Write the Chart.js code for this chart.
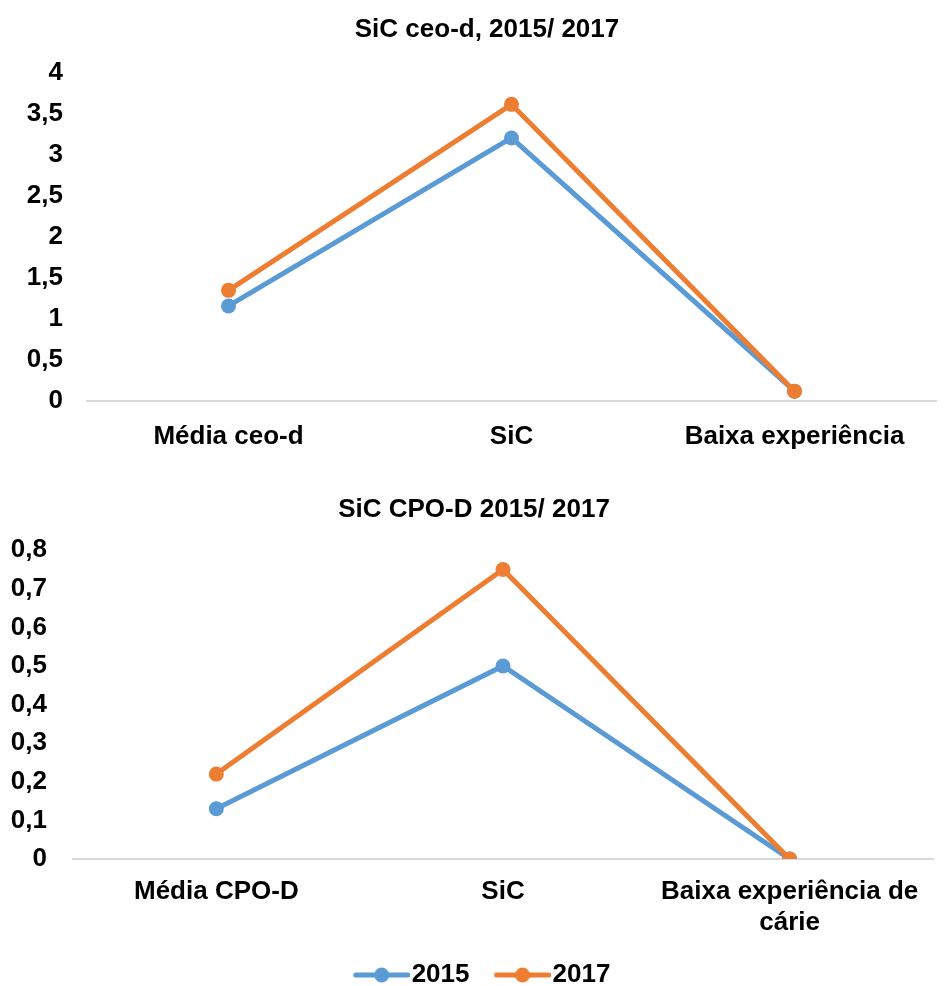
<!DOCTYPE html>
<html lang="pt">
<head>
    <meta charset="UTF-8">
    <title>SiC ceo-d / CPO-D 2015 e 2017</title>
    <script src="https://cdn.jsdelivr.net/npm/chart.js"></script>
    <style>
        html, body { margin: 0; background: #fff; overflow: hidden; }
        canvas { position: absolute; left: 0; }
        #chartTop { top: 0; }
        #chartBottom { top: 470px; }
    </style>
</head>
<body>
    <canvas id="chartTop" width="948" height="470"></canvas>
    <canvas id="chartBottom" width="948" height="528"></canvas>

    <script>
        // dados
        const seriesNames = ['2015', '2017'];

        const ceoLabels = ['Média ceo-d', 'SiC', 'Baixa experiência'];
        const ceo2015 = [1.16, 3.21, 0.12];
        const ceo2017 = [1.35, 3.62, 0.12];

        const cpoLabels = ['Média CPO-D', 'SiC', ['Baixa experiência de', 'cárie']];
        const cpo2015 = [0.13, 0.50, 0.00];
        const cpo2017 = [0.22, 0.75, 0.00];

        const blue = '#5B9BD5';
        const orange = '#ED7D31';

        Chart.defaults.font.family = '"Liberation Sans", Arial, sans-serif';
        Chart.defaults.color = '#000';

        function fmt(v) {
            return Number(v.toFixed(1)).toString().replace('.', ',');
        }

        // legend marker: line with a dot, shifted so it sits right before the text
        function legendMarker(color) {
            const c = document.createElement('canvas');
            c.width = 82;
            c.height = 18;
            const g = c.getContext('2d');
            g.strokeStyle = color;
            g.lineWidth = 5;
            g.lineCap = 'round';
            g.beginPath();
            g.moveTo(28, 9);
            g.lineTo(80, 9);
            g.stroke();
            g.fillStyle = color;
            g.beginPath();
            g.arc(54, 9, 7.5, 0, Math.PI * 2);
            g.fill();
            return c;
        }

        // nudge title / legend sideways (Excel centres them a bit off the canvas middle)
        const shiftBoxes = {
            id: 'shiftBoxes',
            afterLayout(chart, args, opts) {
                if (chart.titleBlock && opts.title) chart.titleBlock.left += opts.title;
                if (chart.legend && opts.legend) {
                    chart.legend.left += opts.legend;
                    chart.legend.right += opts.legend;
                }
            }
        };

        function makeDatasets(d2015, d2017) {
            return [
                {
                    label: seriesNames[0],
                    data: d2015,
                    borderColor: blue,
                    backgroundColor: blue,
                    borderWidth: 5,
                    pointRadius: 7.5,
                    pointHoverRadius: 7.5,
                    pointBorderWidth: 0,
                    order: 1
                },
                {
                    label: seriesNames[1],
                    data: d2017,
                    borderColor: orange,
                    backgroundColor: orange,
                    borderWidth: 5,
                    pointRadius: 7.5,
                    pointHoverRadius: 7.5,
                    pointBorderWidth: 0,
                    order: 0
                }
            ];
        }

        function makeOptions(cfg) {
            return {
                responsive: false,
                animation: false,
                layout: { padding: { left: 0, right: cfg.padRight, top: 0, bottom: 0 } },
                plugins: {
                    shiftBoxes: { title: cfg.titleShift, legend: cfg.legendShift || 0 },
                    title: {
                        display: true,
                        text: cfg.title,
                        font: { size: 26, weight: 'bold' },
                        color: '#000',
                        padding: { top: cfg.titleTop, bottom: cfg.titleBottom }
                    },
                    legend: cfg.legend,
                    tooltip: { enabled: false }
                },
                scales: {
                    x: {
                        offset: true,
                        grid: { display: false, drawTicks: false },
                        border: { display: true, color: '#d9d9d9', width: 2 },
                        ticks: {
                            font: { size: 26, weight: 'bold', lineHeight: 1.2 },
                            color: '#000',
                            padding: cfg.xPad,
                            maxRotation: 0,
                            autoSkip: false
                        },
                        afterFit: s => { s.height = cfg.xHeight; }
                    },
                    y: {
                        min: 0,
                        max: cfg.yMax,
                        grid: { display: false, drawTicks: false },
                        border: { display: false },
                        ticks: {
                            stepSize: cfg.yStep,
                            font: { size: 26, weight: 'bold' },
                            color: '#000',
                            padding: cfg.yPad,
                            callback: v => fmt(v)
                        },
                        afterFit: s => { s.width = cfg.yWidth; }
                    }
                }
            };
        }

        new Chart(document.getElementById('chartTop'), {
            type: 'line',
            data: { labels: ceoLabels, datasets: makeDatasets(ceo2015, ceo2017) },
            plugins: [shiftBoxes],
            options: makeOptions({
                title: 'SiC ceo-d, 2015/ 2017',
                titleTop: 14, titleBottom: 28, titleShift: 38,
                padRight: 12,
                yMax: 4, yStep: 0.5, yWidth: 87, yPad: 24,
                xHeight: 69, xPad: 20,
                legend: { display: false }
            })
        });

        new Chart(document.getElementById('chartBottom'), {
            type: 'line',
            data: { labels: cpoLabels, datasets: makeDatasets(cpo2015, cpo2017) },
            plugins: [shiftBoxes],
            options: makeOptions({
                title: 'SiC CPO-D 2015/ 2017',
                titleTop: 24, titleBottom: 25, titleShift: 15,
                padRight: 15,
                yMax: 0.8, yStep: 0.1, yWidth: 73, yPad: 26,
                xHeight: 93, xPad: 17,
                legendShift: 8,
                legend: {
                    display: true,
                    position: 'bottom',
                    labels: {
                        usePointStyle: true,
                        pointStyleWidth: 60,
                        font: { size: 26, weight: 'bold' },
                        color: '#000',
                        padding: 10,
                        sort: (a, b) => a.datasetIndex - b.datasetIndex,
                        generateLabels: chart => {
                            const items = Chart.defaults.plugins.legend.labels.generateLabels(chart);
                            items.forEach(it => {
                                it.pointStyle = legendMarker(it.datasetIndex === 0 ? blue : orange);
                            });
                            return items;
                        }
                    }
                }
            })
        });
    </script>
</body>
</html>
